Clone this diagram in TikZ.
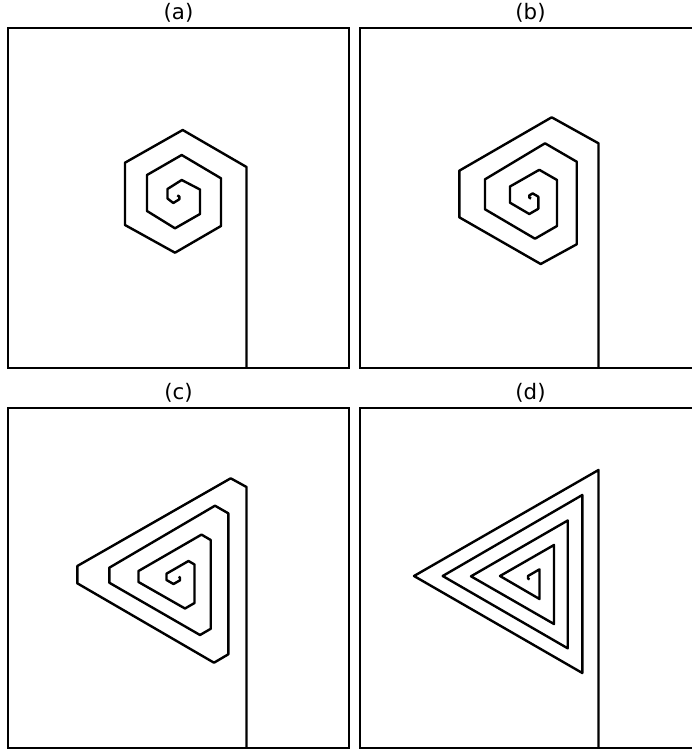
\documentclass[tikz,border=0pt]{standalone}
\usepackage{fontspec}
\setmainfont{DejaVu Sans}
\begin{document}
\begin{tikzpicture}[x=0.75pt,y=-0.75pt,line width=1.8pt,
  spiral/.style={line join=round,line cap=butt},
  frame/.style={line join=miter},
  paneltitle/.style={font=\fontsize{16}{18}\selectfont,anchor=base,inner sep=0pt}]
\useasboundingbox (0,0) rectangle (692,753);
\clip (0,0) rectangle (692,753);
% frames
\draw[frame] (8,28) rectangle (349,368);
\draw[frame] (360,28) rectangle (701,368);
\draw[frame] (8,408) rectangle (349,748);
\draw[frame] (360,408) rectangle (701,748);
% titles
\node[paneltitle] (ta) at (178.5,19) {(a)};
\node[paneltitle] (tb) at (530.5,19) {(b)};
\node[paneltitle] (tc) at (178.5,399) {(c)};
\node[paneltitle] (td) at (530.5,399) {(d)};
% (a) hexagonal spiral
\draw[spiral] (246.5,368) -- (246.5,167) -- (182.7,130) -- (125,162.7) -- (125,225)
  -- (175,252.7) -- (221,226) -- (221,178.3) -- (181.7,155) -- (147,175) -- (147,211)
  -- (175,228.3) -- (200,214) -- (200,189.5) -- (181.7,180) -- (167.5,189)
  -- (167.5,198.5) -- (173.3,203) -- (179.3,199.3) -- (179.3,196.5) -- (177.3,195.4);
% (b) hexagon with alternating sides
\draw[spiral] (598.5,368) -- (598.5,143.3) -- (551.7,117.3) -- (459.3,170.7) -- (459.3,217.3)
  -- (540.7,264) -- (576.7,244.3) -- (576.7,161.7) -- (545,143.3) -- (485,179.3)
  -- (485,209.3) -- (535,238.7) -- (557,226) -- (557,180) -- (539.3,169.8)
  -- (510,186.5) -- (510,202.7) -- (529.3,214) -- (538.3,208.8) -- (538.3,196.7)
  -- (532.7,193.4) -- (529.3,195.4) -- (529.3,197.6) -- (531,198.6);
% (c) truncated triangle spiral
\draw[spiral] (246.5,748) -- (246.5,487) -- (230.7,478.3) -- (77.3,566) -- (77.3,583.3)
  -- (214,662.7) -- (228.3,654.3) -- (228.3,513.3) -- (215,505.7) -- (109.3,567.7)
  -- (109.3,582.7) -- (200,635) -- (210.7,628.8) -- (210.7,540) -- (201.5,534.6)
  -- (138.5,571) -- (138.5,582) -- (185,608.5) -- (194.5,603) -- (194.5,564.5)
  -- (188.5,561) -- (166.5,573.7) -- (166.5,580) -- (173.5,584) -- (180,580.3)
  -- (180,577.6) -- (178.6,576.8);
% (d) triangular spiral
\draw[spiral] (598.5,748) -- (598.5,470) -- (414,576) -- (582.3,673) -- (582.3,495)
  -- (442.7,576) -- (567.7,648.3) -- (567.7,520.5) -- (471,576.3) -- (554,624)
  -- (554,545) -- (500,576) -- (539.5,599) -- (539.5,569.3) -- (528,576)
  -- (528,578.5) -- (529.6,579.4);
\end{tikzpicture}
\end{document}
